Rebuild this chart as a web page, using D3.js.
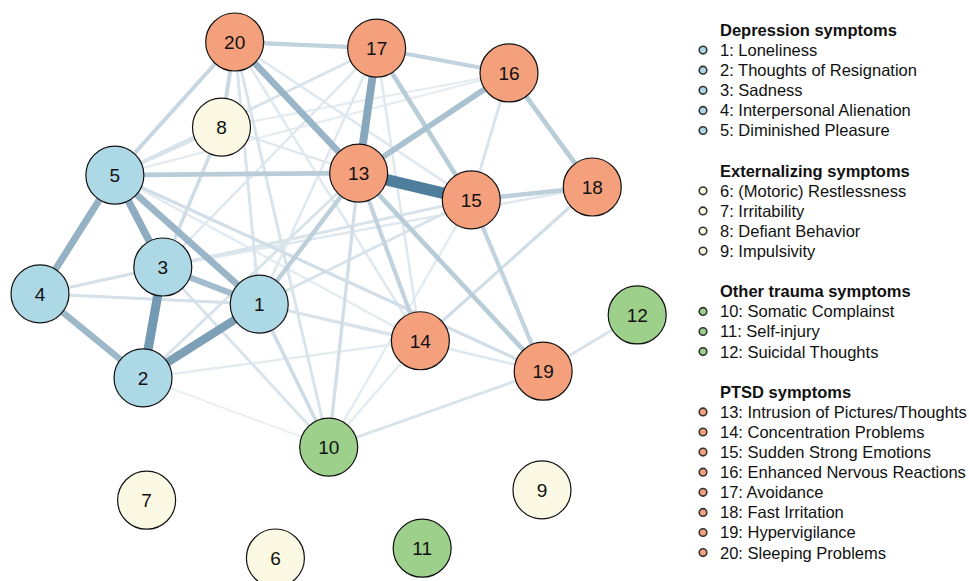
<!DOCTYPE html>
<html>
<head>
<meta charset="utf-8">
<script src="https://cdn.jsdelivr.net/npm/d3@7"></script>
<style>
	body { margin: 0; background: #fff; }
	svg { display: block; font-family: "Liberation Sans", Arial, sans-serif; }
</style>
</head>
<body>
<svg id="chart" width="969" height="581"></svg>
<script>
// node ids, groups and layout (layout units 0..100)
var nodeIds = [1, 2, 3, 4, 5, 6, 7, 8, 9, 10, 11, 12, 13, 14, 15, 16, 17, 18, 19, 20];
var nodeGroups = ["dep", "dep", "dep", "dep", "dep", "ext", "ext", "ext", "ext", "oth", "oth", "oth",
	"ptsd", "ptsd", "ptsd", "ptsd", "ptsd", "ptsd", "ptsd", "ptsd"];
var layoutX = [36.6, 17.2, 20.5, 0, 12.5, 39.3, 17.8, 30.3, 83.8, 48.2, 63.8, 99.7,
	53.2, 63.5, 72.0, 78.3, 56.2, 92.2, 84.0, 32.5];
var layoutY = [50.8, 65.1, 43.6, 48.8, 25.8, 100, 88.8, 16.5, 86.8, 78.5, 98.1, 52.9,
	25.4, 57.9, 30.6, 6.0, 1.2, 28.1, 63.8, 0];

// edges: from, to, weight
var edgeFrom = [13, 2, 1, 13, 3, 4, 2, 1, 1, 13, 13, 13, 15, 16, 15, 5, 17, 16, 15, 1, 13, 5, 8, 3,
	14, 12, 10, 1, 10, 10, 10, 1, 10, 14, 5, 5, 5, 5, 3, 1, 2, 3, 1, 4, 3, 15, 2, 2, 1, 8, 8, 20, 3, 1, 17, 17, 17, 5];
var edgeTo = [15, 3, 2, 17, 5, 5, 4, 5, 3, 20, 16, 19, 17, 18, 18, 13, 20, 17, 19, 13, 14, 20, 20, 8,
	18, 19, 19, 10, 13, 14, 15, 20, 20, 20, 8, 17, 19, 14, 4, 4, 13, 15, 15, 15, 18, 16, 10, 14, 14, 13, 16, 15, 10, 19, 14, 3, 1, 16];
var edgeWeight = [1.0, 0.76, 0.7, 0.64, 0.6, 0.55, 0.5, 0.52, 0.46, 0.52, 0.42, 0.32, 0.32, 0.32, 0.3, 0.32, 0.28, 0.27, 0.27, 0.3, 0.27, 0.24, 0.24, 0.2,
	0.18, 0.14, 0.14, 0.2, 0.18, 0.08, 0.08, 0.14, 0.14, 0.1, 0.14, 0.14, 0.18, 0.08, 0.16, 0.16, 0.14, 0.14, 0.14, 0.08, 0.1, 0.14, 0.05, 0.08, 0.14, 0.1, 0.07, 0.1, 0.14, 0.1, 0.1, 0.1, 0.1, 0.07];

// legend
var groupKeys = ["dep", "ext", "oth", "ptsd"];
var groupTitles = ["Depression symptoms", "Externalizing symptoms", "Other trauma symptoms", "PTSD symptoms"];
var groupColors = ["#add8e6", "#fbf9e3", "#9dd08a", "#f4a07c"];
var nodeNames = ["Loneliness", "Thoughts of Resignation", "Sadness", "Interpersonal Alienation", "Diminished Pleasure",
	"(Motoric) Restlessness", "Irritability", "Defiant Behavior", "Impulsivity",
	"Somatic Complainst", "Self-injury", "Suicidal Thoughts",
	"Intrusion of Pictures/Thoughts", "Concentration Problems", "Sudden Strong Emotions", "Enhanced Nervous Reactions",
	"Avoidance", "Fast Irritation", "Hypervigilance", "Sleeping Problems"];

var svg = d3.select("#chart");
var xScale = d3.scaleLinear().domain([0, 100]).range([40, 639]);
var yScale = d3.scaleLinear().domain([0, 100]).range([42, 558]);
var color = d3.scaleOrdinal().domain(groupKeys).range(groupColors);
var edgeWidth = d3.scaleLinear().domain([0, 1]).range([1.5, 11.5]);
var edgeColor = d3.scaleLinear().domain([0, 0.3, 1]).range(["#f0f5f8", "#bccfdb", "#4f7d9c"]).interpolate(d3.interpolateRgb);
var radius = 29;

var nodes = nodeIds.map(function(id, i) {
	return { id : id, group : nodeGroups[i], x : xScale(layoutX[i]), y : yScale(layoutY[i]) };
});
var edges = edgeFrom.map(function(f, i) {
	return { source : nodes[f - 1], target : nodes[edgeTo[i] - 1], weight : edgeWeight[i] };
}).sort(function(a, b) {
	return a.weight - b.weight;
});

svg.append("g").selectAll("line").data(edges).enter().append("line")//
.attr("x1", function(d) { return d.source.x; })//
.attr("y1", function(d) { return d.source.y; })//
.attr("x2", function(d) { return d.target.x; })//
.attr("y2", function(d) { return d.target.y; })//
.style("stroke", function(d) { return edgeColor(d.weight); })//
.style("stroke-width", function(d) { return edgeWidth(d.weight); });

var node = svg.append("g").selectAll("g").data(nodes).enter().append("g")//
.attr("transform", function(d) { return "translate(" + d.x + "," + d.y + ")"; });
node.append("circle")//
.attr("r", radius)//
.style("fill", function(d) { return color(d.group); })//
.style("stroke", "#111")//
.style("stroke-width", 1.2);
node.append("text")//
.attr("text-anchor", "middle")//
.attr("dy", "0.36em")//
.style("font-size", "19px")//
.style("fill", "#111")//
.text(function(d) { return d.id; });

// legend rows: title, items, blank line
var rows = [];
groupKeys.forEach(function(key, g) {
	rows.push({ title : groupTitles[g] });
	nodeIds.forEach(function(id, i) {
		if (nodeGroups[i] == key) {
			rows.push({ label : id + ": " + nodeNames[i], group : key });
		}
	});
	rows.push(null);
});
var rowY = d3.scaleLinear().domain([0, 1]).range([30, 50.1]);
var legend = svg.append("g");
rows.forEach(function(r, k) {
	if (!r) return;
	if (r.title) {
		legend.append("text").attr("x", 720).attr("y", rowY(k)).attr("dy", "0.36em")//
		.style("font-size", "16.5px").style("font-weight", "bold").style("fill", "#111").text(r.title);
	} else {
		legend.append("circle").attr("cx", 703).attr("cy", rowY(k)).attr("r", 3.8)//
		.style("fill", color(r.group)).style("stroke", "#333").style("stroke-width", 1.6);
		legend.append("text").attr("x", 720).attr("y", rowY(k)).attr("dy", "0.36em")//
		.style("font-size", "16.5px").style("fill", "#111").text(r.label);
	}
});
</script>
</body>
</html>
